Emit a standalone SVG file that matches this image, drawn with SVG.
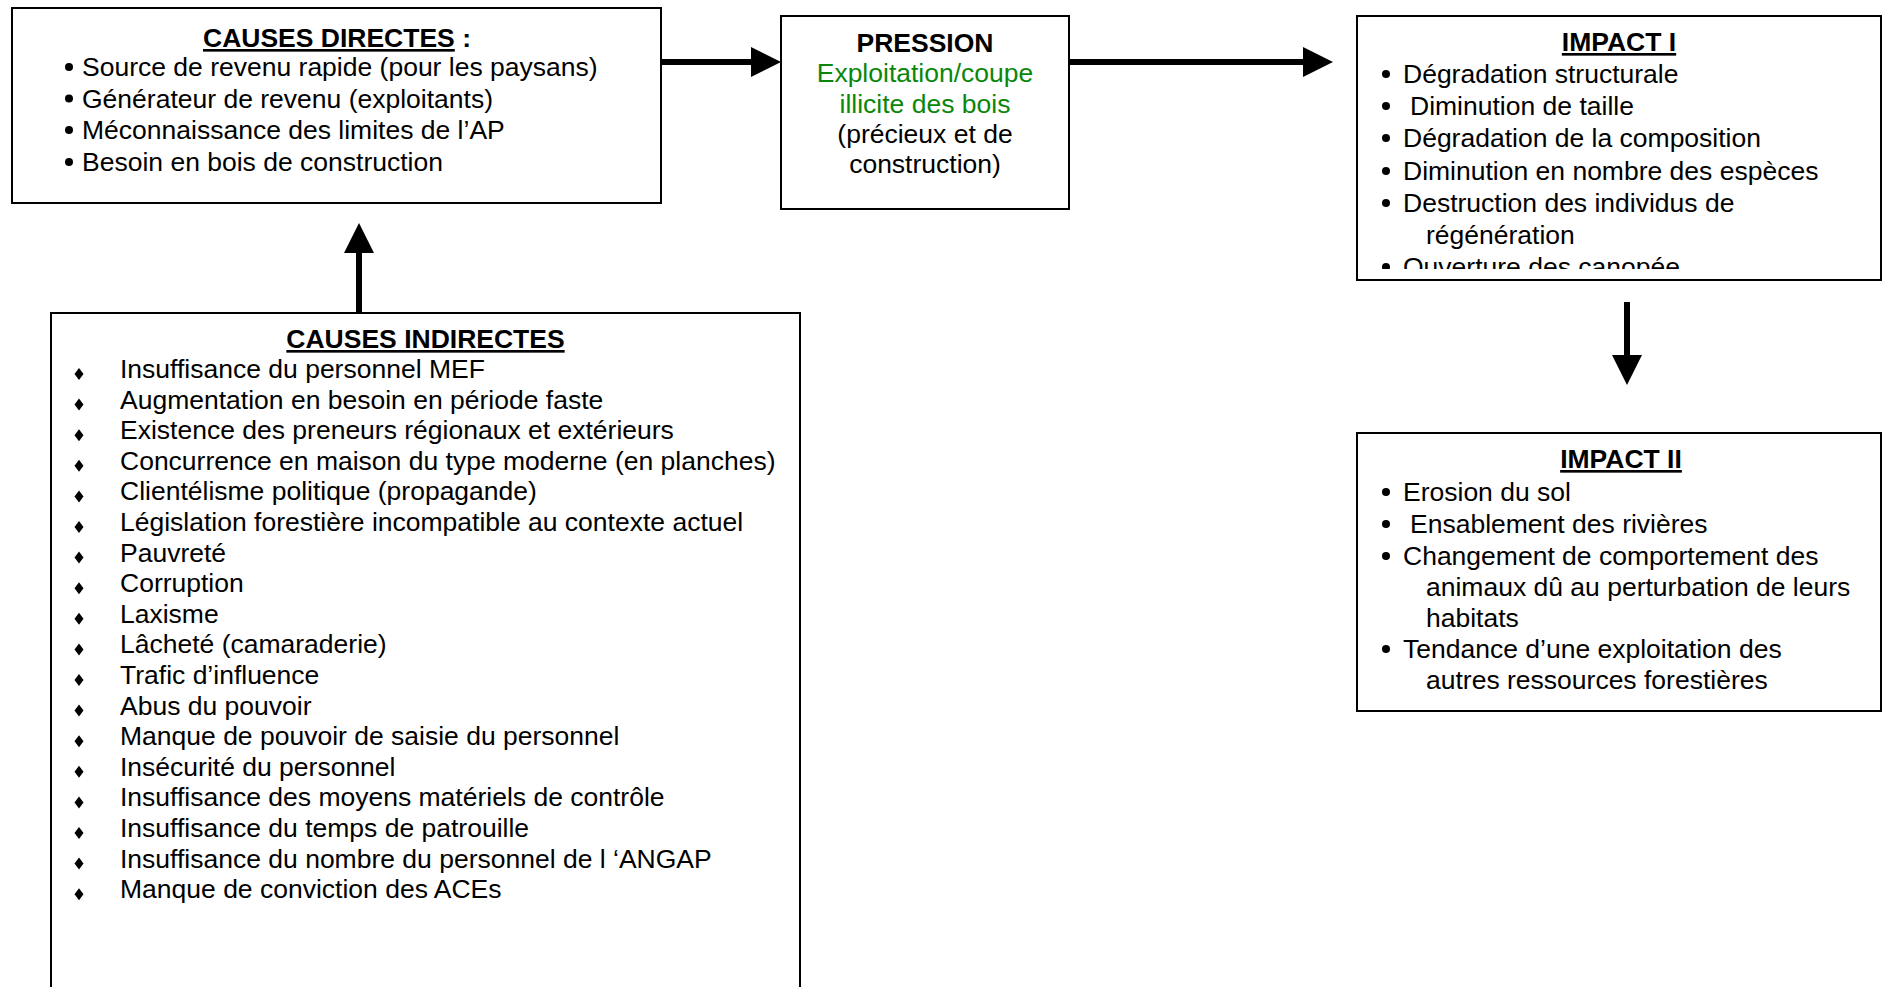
<svg xmlns="http://www.w3.org/2000/svg" xmlns:xlink="http://www.w3.org/1999/xlink" width="1885" height="987" viewBox="0 0 1885 987">
  <style>
    .box { fill: #ffffff; stroke: #000000; stroke-width: 2; }
    .t { font-family: "Liberation Sans", Arial, sans-serif; font-size: 26.5px; fill: #000000; }
    .b { font-weight: bold; }
    .u { text-decoration: underline; }
    .g { fill: #0a870a; }
    .mid { text-anchor: middle; }
    .dot { fill: #000000; }
    .conn line { stroke: #000000; stroke-width: 6; }
  </style>
  <defs>
    <marker id="head" markerUnits="userSpaceOnUse" markerWidth="30" markerHeight="30" viewBox="0 0 30 30" refX="0" refY="15" orient="auto">
      <path d="M0,0 L30,15 L0,30 Z" fill="#000000"/>
    </marker>
    <path id="diamond" d="M0,-6 L4.5,0 L0,6 L-4.5,0 Z" fill="#000000"/>
    <clipPath id="clip-impact1">
      <rect x="1357" y="16" width="524" height="253"/>
    </clipPath>
  </defs>

  <rect width="1885" height="987" fill="#ffffff"/>

  <!-- Connectors -->
  <g id="connectors" class="conn">
    <line x1="661" y1="62" x2="751" y2="62" marker-end="url(#head)"/>
    <line x1="1069" y1="62" x2="1303" y2="62" marker-end="url(#head)"/>
    <line x1="359" y1="312" x2="359" y2="253" marker-end="url(#head)"/>
    <line x1="1627" y1="302" x2="1627" y2="355" marker-end="url(#head)"/>
  </g>

  <!-- Direct causes -->
  <g id="causes-directes">
    <rect class="box" x="12" y="8" width="649" height="195"/>
    <text class="t b mid" x="337" y="47"><tspan class="u">CAUSES DIRECTES</tspan> :</text>
    <circle class="dot" cx="69" cy="67" r="4"/>
    <circle class="dot" cx="69" cy="98.5" r="4"/>
    <circle class="dot" cx="69" cy="130" r="4"/>
    <circle class="dot" cx="69" cy="162" r="4"/>
    <text class="t" x="82" y="76">Source de revenu rapide (pour les paysans)</text>
    <text class="t" x="82" y="107.5">Générateur de revenu (exploitants)</text>
    <text class="t" x="82" y="139">Méconnaissance des limites de l’AP</text>
    <text class="t" x="82" y="171">Besoin en bois de construction</text>
  </g>

  <!-- Pressure -->
  <g id="pression">
    <rect class="box" x="781" y="16" width="288" height="193"/>
    <text class="t b mid" x="925" y="52">PRESSION</text>
    <text class="t g mid" x="925" y="82">Exploitation/coupe</text>
    <text class="t g mid" x="925" y="112.5">illicite des bois</text>
    <text class="t mid" x="925" y="143">(précieux et de</text>
    <text class="t mid" x="925" y="173">construction)</text>
  </g>

  <!-- First-order impacts -->
  <g id="impact-1">
    <rect class="box" x="1357" y="16" width="524" height="264"/>
    <text class="t b mid" x="1619" y="51"><tspan class="u">IMPACT I</tspan></text>
    <g clip-path="url(#clip-impact1)">
      <circle class="dot" cx="1386" cy="74" r="4"/>
      <circle class="dot" cx="1386" cy="106" r="4"/>
      <circle class="dot" cx="1386" cy="138" r="4"/>
      <circle class="dot" cx="1386" cy="171" r="4"/>
      <circle class="dot" cx="1386" cy="203" r="4"/>
      <circle class="dot" cx="1386" cy="267" r="4"/>
      <text class="t" x="1403" y="83">Dégradation structurale</text>
      <text class="t" x="1410" y="115">Diminution de taille</text>
      <text class="t" x="1403" y="147">Dégradation de la composition</text>
      <text class="t" x="1403" y="180">Diminution en nombre des espèces</text>
      <text class="t" x="1403" y="212">Destruction des individus de</text>
      <text class="t" x="1426" y="244">régénération</text>
      <text class="t" x="1403" y="276">Ouverture des canopée</text>
    </g>
  </g>

  <!-- Second-order impacts -->
  <g id="impact-2">
    <rect class="box" x="1357" y="433" width="524" height="278"/>
    <text class="t b mid" x="1621" y="468"><tspan class="u">IMPACT II</tspan></text>
    <circle class="dot" cx="1386" cy="492" r="4"/>
    <circle class="dot" cx="1386" cy="524" r="4"/>
    <circle class="dot" cx="1386" cy="556" r="4"/>
    <circle class="dot" cx="1386" cy="649" r="4"/>
    <text class="t" x="1403" y="501">Erosion du sol</text>
    <text class="t" x="1410" y="533">Ensablement des rivières</text>
    <text class="t" x="1403" y="565">Changement de comportement des</text>
    <text class="t" x="1426" y="596">animaux dû au perturbation de leurs</text>
    <text class="t" x="1426" y="627">habitats</text>
    <text class="t" x="1403" y="658">Tendance d’une exploitation des</text>
    <text class="t" x="1426" y="689">autres ressources forestières</text>
  </g>

  <!-- Indirect causes -->
  <g id="causes-indirectes">
    <rect class="box" x="51" y="313" width="749" height="700"/>
    <text class="t b mid" x="425.5" y="348"><tspan class="u">CAUSES INDIRECTES</tspan></text>
    <use xlink:href="#diamond" x="79" y="374"/>
    <use xlink:href="#diamond" x="79" y="404.6"/>
    <use xlink:href="#diamond" x="79" y="435.2"/>
    <use xlink:href="#diamond" x="79" y="465.8"/>
    <use xlink:href="#diamond" x="79" y="496.4"/>
    <use xlink:href="#diamond" x="79" y="527"/>
    <use xlink:href="#diamond" x="79" y="557.6"/>
    <use xlink:href="#diamond" x="79" y="588.2"/>
    <use xlink:href="#diamond" x="79" y="618.8"/>
    <use xlink:href="#diamond" x="79" y="649.4"/>
    <use xlink:href="#diamond" x="79" y="680"/>
    <use xlink:href="#diamond" x="79" y="710.6"/>
    <use xlink:href="#diamond" x="79" y="741.2"/>
    <use xlink:href="#diamond" x="79" y="771.8"/>
    <use xlink:href="#diamond" x="79" y="802.4"/>
    <use xlink:href="#diamond" x="79" y="833"/>
    <use xlink:href="#diamond" x="79" y="863.6"/>
    <use xlink:href="#diamond" x="79" y="894.2"/>
    <text class="t" x="120" y="378">Insuffisance du personnel MEF</text>
    <text class="t" x="120" y="408.6">Augmentation en besoin en période faste</text>
    <text class="t" x="120" y="439.2">Existence des preneurs régionaux et extérieurs</text>
    <text class="t" x="120" y="469.8">Concurrence en maison du type moderne (en planches)</text>
    <text class="t" x="120" y="500.4">Clientélisme politique (propagande)</text>
    <text class="t" x="120" y="531">Législation forestière incompatible au contexte actuel</text>
    <text class="t" x="120" y="561.6">Pauvreté</text>
    <text class="t" x="120" y="592.2">Corruption</text>
    <text class="t" x="120" y="622.8">Laxisme</text>
    <text class="t" x="120" y="653.4">Lâcheté (camaraderie)</text>
    <text class="t" x="120" y="684">Trafic d’influence</text>
    <text class="t" x="120" y="714.6">Abus du pouvoir</text>
    <text class="t" x="120" y="745.2">Manque de pouvoir de saisie du personnel</text>
    <text class="t" x="120" y="775.8">Insécurité du personnel</text>
    <text class="t" x="120" y="806.4">Insuffisance des moyens matériels de contrôle</text>
    <text class="t" x="120" y="837">Insuffisance du temps de patrouille</text>
    <text class="t" x="120" y="867.6">Insuffisance du nombre du personnel de l ‘ANGAP</text>
    <text class="t" x="120" y="898.2">Manque de conviction des ACEs</text>
  </g>
</svg>
